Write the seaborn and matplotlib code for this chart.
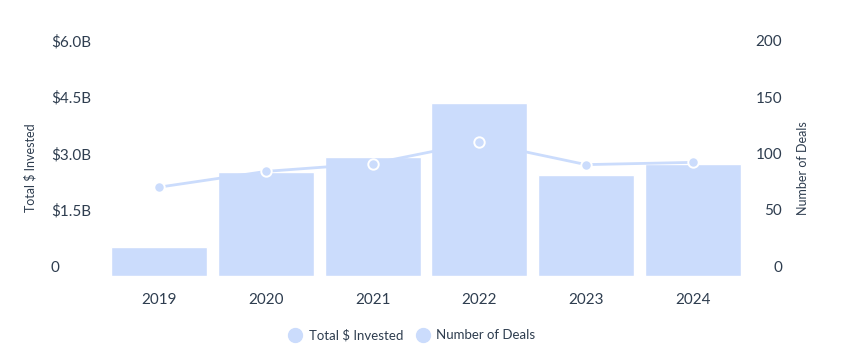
import matplotlib
matplotlib.use("Agg")
import matplotlib.pyplot as plt
import matplotlib.transforms as mtransforms
from matplotlib.lines import Line2D
import seaborn as sns
import numpy as np
import pandas as pd

# data
years = ["2019", "2020", "2021", "2022", "2023", "2024"]
invested_b = [0.77, 2.77, 3.17, 4.61, 2.69, 2.99]   # $ billions
deals = [79, 93, 100, 119, 99, 101]

left_ticks = [0, 1.5, 3.0, 4.5, 6.0]
left_labels = ["0", "$1.5B", "$3.0B", "$4.5B", "$6.0B"]
right_ticks = [0, 50, 100, 150, 200]

bar_color = "#cbdcfc"
text_color = "#2e3d4f"

sns.set_theme(style="white")
plt.rcParams["font.family"] = ["Lato", "DejaVu Sans"]

df = pd.DataFrame({"year": years, "invested": invested_b, "deals": deals})

fig = plt.figure(figsize=(8.45, 3.56), dpi=100)
ax = fig.add_axes([106 / 845, 1 - 276 / 356, 640 / 845, 225 / 356])

sns.barplot(data=df, x="year", y="invested", color=bar_color, saturation=1,
            width=0.9, ax=ax, zorder=1)
ax.set_xlim(-0.5, 5.5)
ax.set_ylim(0, 6)
ax.set_yticks(left_ticks)
ax.set_yticklabels(left_labels)
ax.set_xlabel("")
ax.set_ylabel("")

ax2 = ax.twinx()
sns.lineplot(x=np.arange(len(years)), y=df["deals"], ax=ax2, color=bar_color,
             lw=2, marker="o", markersize=7.5, markerfacecolor=bar_color,
             markeredgecolor="white", markeredgewidth=1.4)
ax2.set_ylim(0, 200)
ax2.set_yticks(right_ticks)
ax2.set_ylabel("")

for a in (ax, ax2):
    for s in a.spines.values():
        s.set_visible(False)
    a.grid(False)

ax.tick_params(axis="x", length=0, pad=12, labelsize=11, labelcolor=text_color)
ax.tick_params(axis="y", length=0, pad=55 * 0.72, labelsize=11, labelcolor=text_color)
ax2.tick_params(axis="y", length=0, pad=36 * 0.72, labelsize=11, labelcolor=text_color)

# tick labels sit a little above their value
shift = mtransforms.ScaledTranslation(0, 10 / 100, fig.dpi_scale_trans)
for lab in ax.get_yticklabels():
    lab.set_horizontalalignment("left")
    lab.set_transform(lab.get_transform() + shift)
for lab in ax2.get_yticklabels():
    lab.set_horizontalalignment("right")
    lab.set_transform(lab.get_transform() + shift)

fig.text(30 / 845, 1 - 168 / 356, "Total $ Invested", rotation=90, ha="center",
         va="center", fontsize=9, color=text_color)
fig.text(803 / 845, 1 - 168 / 356, "Number of Deals", rotation=90, ha="center",
         va="center", fontsize=9, color=text_color)

handles = [
    Line2D([], [], marker="o", ls="", markersize=10, markerfacecolor=bar_color,
           markeredgecolor=bar_color, label="Total $ Invested"),
    Line2D([], [], marker="o", ls="", markersize=10, markerfacecolor=bar_color,
           markeredgecolor=bar_color, label="Number of Deals"),
]
leg = fig.legend(handles=handles, loc="center", bbox_to_anchor=(412 / 845, 1 - 335 / 356),
                 ncol=2, frameon=False, fontsize=9.5, handletextpad=0.5,
                 columnspacing=1.0, handlelength=1.0)
for t in leg.get_texts():
    t.set_color(text_color)

fig.savefig("out.png", dpi=100)
